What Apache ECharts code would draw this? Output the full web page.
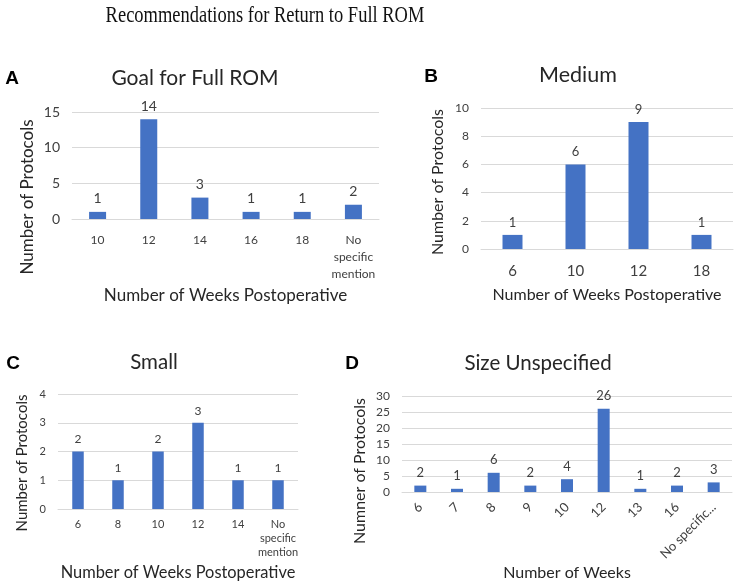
<!DOCTYPE html>
<html>
<head>
<meta charset="utf-8">
<script src="https://cdn.jsdelivr.net/npm/echarts@6/dist/echarts.min.js"></script>
<style>html,body{margin:0;padding:0;background:#fff}#c{width:735px;height:583px}</style>
</head>
<body>
<div id="c"></div>
<script>
// Data
const catsA = ['10', '12', '14', '16', '18', 'No\nspecific\nmention'];
const valsA = [1, 14, 3, 1, 1, 2];
const catsB = ['6', '10', '12', '18'];
const valsB = [1, 6, 9, 1];
const catsC = ['6', '8', '10', '12', '14', 'No\nspecific\nmention'];
const valsC = [2, 1, 2, 3, 1, 1];
const catsD = ['6', '7', '8', '9', '10', '12', '13', '16', 'No specific...'];
const valsD = [2, 1, 6, 2, 4, 26, 1, 2, 3];

const F = 'Lato, "Open Sans", sans-serif';
const BLUE = '#4472C4';
const GRID = '#d9d9d9';
const TXT = '#404040';

const chart = echarts.init(document.getElementById('c'));

function xAx(i, cats, fs, margin, lh, name, nameGap, nameFs, rotate) {
  return {
    type: 'category', gridIndex: i, data: cats,
    axisLine: { show: true, lineStyle: { color: GRID, width: 1 } },
    axisTick: { show: false },
    axisLabel: { color: TXT, fontFamily: F, fontSize: fs, margin: margin, lineHeight: lh, rotate: rotate || 0, interval: 0 },
    name: name, nameLocation: 'middle', nameGap: nameGap, nameMoveOverlap: false,
    nameTextStyle: { color: '#262626', fontFamily: F, fontSize: nameFs }
  };
}
function yAx(i, max, interval, fs) {
  return {
    type: 'value', gridIndex: i, min: 0, max: max, interval: interval,
    axisLine: { show: false }, axisTick: { show: false },
    splitLine: { lineStyle: { color: GRID, width: 1 } },
    axisLabel: { color: TXT, fontFamily: F, fontSize: fs, margin: 12 }
  };
}
function ser(i, vals, bw, fs) {
  return {
    type: 'bar', xAxisIndex: i, yAxisIndex: i, data: vals, barWidth: bw,
    itemStyle: { color: BLUE },
    label: { show: true, position: 'top', distance: 6, color: TXT, fontFamily: F, fontSize: fs }
  };
}
function txt(x, y, s, fs, opts) {
  opts = opts || {};
  return {
    type: 'text', x: x, y: y, rotation: opts.rot || 0, scaleX: opts.sx || 1,
    style: { text: s, fontSize: fs, fontWeight: opts.bold ? 'bold' : 'normal', fontFamily: opts.fam || F,
      fill: opts.color || '#262626', textAlign: 'center', textVerticalAlign: 'middle' }
  };
}
const ARIAL = '"Liberation Sans", Arial, sans-serif';
const SERIF = '"Liberation Serif", "Times New Roman", serif';
const R = Math.PI / 2;

chart.setOption({
  animation: false,
  grid: [
    { left: 72, top: 112, width: 307, height: 107 },
    { left: 481, top: 108, width: 252, height: 141 },
    { left: 58, top: 394, width: 240, height: 115 },
    { left: 402, top: 396, width: 330, height: 96 }
  ],
  xAxis: [
    xAx(0, catsA, 12, 13, 17, 'Number of Weeks Postoperative', 68, 17),
    xAx(1, catsB, 15, 13, 18, 'Number of Weeks Postoperative', 38, 16),
    xAx(2, catsC, 11, 8, 14, 'Number of Weeks Postoperative', 56, 16.4),
    xAx(3, catsD, 13, 13, 16, 'Number of Weeks', 73, 16, 45)
  ],
  yAxis: [
    yAx(0, 15, 5, 14),
    yAx(1, 10, 2, 12),
    yAx(2, 4, 1, 11),
    yAx(3, 30, 5, 12)
  ],
  series: [
    ser(0, valsA, 17, 14),
    ser(1, valsB, 20, 13),
    ser(2, valsC, 11.5, 12),
    ser(3, valsD, 12, 13)
  ],
  graphic: [
    txt(265, 16, 'Recommendations for Return to Full ROM', 24, { fam: SERIF, color: '#111', sx: 0.77 }),
    txt(195, 78, 'Goal for Full ROM', 21),
    txt(578, 75, 'Medium', 21.5),
    txt(154, 362, 'Small', 20.5),
    txt(538, 363, 'Size Unspecified', 20.5),
    txt(28, 197, 'Number of Protocols', 17, { rot: R }),
    txt(438, 182, 'Number of Protocols', 16, { rot: R }),
    txt(22, 463, 'Number of Protocols', 15, { rot: R }),
    txt(360, 471, 'Numner of Protocols', 16, { rot: R }),
    txt(12, 79, 'A', 19, { bold: true, fam: ARIAL, color: '#000' }),
    txt(431, 77, 'B', 19, { bold: true, fam: ARIAL, color: '#000' }),
    txt(13, 364, 'C', 19, { bold: true, fam: ARIAL, color: '#000' }),
    txt(352, 364, 'D', 19, { bold: true, fam: ARIAL, color: '#000' })
  ]
});
</script>
</body>
</html>
